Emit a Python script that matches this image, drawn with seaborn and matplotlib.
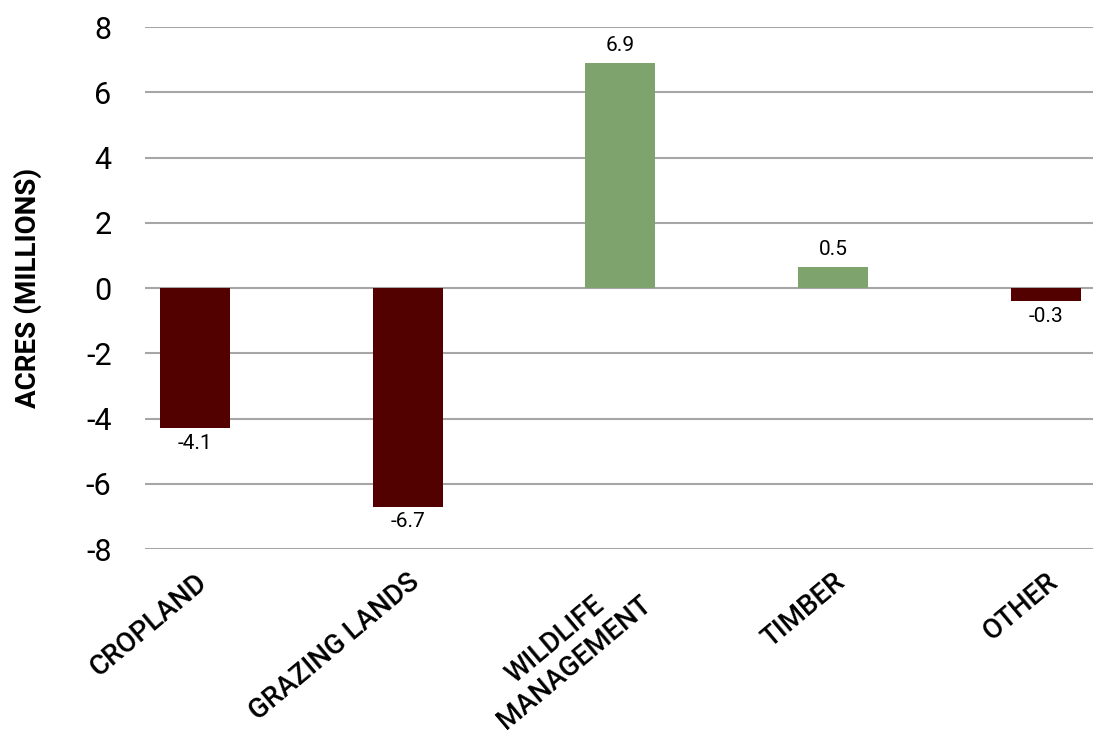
import matplotlib
matplotlib.use("Agg")
import matplotlib.pyplot as plt
import seaborn as sns
import pandas as pd

categories = ["CROPLAND", "GRAZING LANDS", "WILDLIFE\nMANAGEMENT", "TIMBER", "OTHER"]
values = [-4.3, -6.7, 6.9, 0.65, -0.4]
value_labels = ["-4.1", "-6.7", "6.9", "0.5", "-0.3"]
yticks = [-8, -6, -4, -2, 0, 2, 4, 6, 8]

sns.set_theme(style="white")
plt.rcParams['font.family'] = ['Roboto', 'DejaVu Sans']

df = pd.DataFrame({"cat": categories, "val": values})
colors = ["#520000" if v < 0 else "#7FA36D" for v in values]

fig = plt.figure(figsize=(10.98, 7.42), dpi=100)
ax = fig.add_axes([0.132, 0.26, 0.863, 0.7036])
sns.barplot(data=df, x="cat", y="val", hue="cat", palette=colors, legend=False,
            width=0.33, ax=ax, saturation=1, zorder=3, linewidth=0)
ax.set_ylim(-8, 8)
ax.set_xlim(-0.235, 4.22)
ax.set_yticks(yticks)
ax.set_yticklabels([str(t) for t in yticks], fontsize=22, color="black")
ax.yaxis.grid(True, color="#a6a6a6", linewidth=1.5, zorder=0)
for s in ax.spines.values():
    s.set_visible(False)
ax.tick_params(axis="y", length=0, pad=24)
ax.tick_params(axis="x", length=0, pad=14)
ax.set_xlabel("")
ax.set_ylabel("ACRES (MILLIONS)", fontsize=20, fontweight="bold", color="black")
ax.yaxis.set_label_coords(-0.109, 0.5)
ax.set_xticks(range(len(categories)))
ax.set_xticklabels(categories, rotation=40, ha="right", rotation_mode="anchor",
                   fontsize=20, fontweight="medium", linespacing=1.1, color="black",
                   multialignment="center")
for i, (v, lab) in enumerate(zip(values, value_labels)):
    if v >= 0:
        ax.annotate(lab, (i, v), xytext=(0, 6), textcoords="offset points",
                    ha="center", va="bottom", fontsize=15, color="black")
    else:
        ax.annotate(lab, (i, v), xytext=(0, -4), textcoords="offset points",
                    ha="center", va="top", fontsize=15, color="black")
fig.savefig("out.png", dpi=100, facecolor="white")
